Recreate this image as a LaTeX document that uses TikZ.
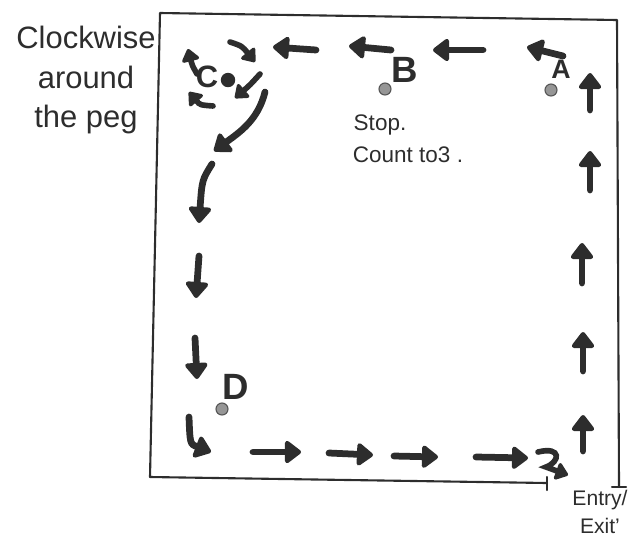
\documentclass[tikz,border=0pt]{standalone}
\usepackage{fontspec}
\setmainfont{Liberation Sans}
\usetikzlibrary{arrows.meta, positioning}
\definecolor{inkcolor}{RGB}{45,45,45}
\definecolor{pegcolor}{RGB}{150,150,150}

\begin{document}
\begin{tikzpicture}[x=0.025cm, y=-0.025cm,
    every node/.style={inner sep=0pt, text=inkcolor},
    box/.style={draw=inkcolor, line width=1.5pt, line cap=round, line join=round},
    move/.style={draw=inkcolor, line width=4.8pt, line cap=round,
                 -{Triangle[length=4.4mm, width=6.4mm, round]}},
    turn/.style={draw=inkcolor, line width=4pt, line cap=round,
                 -{Triangle[length=3.4mm, width=5mm, round]}},
    peg/.style={circle, draw=inkcolor!80, fill=pegcolor, minimum size=3mm, line width=0.8pt},
    bigpeg/.style={circle, fill=inkcolor, minimum size=3.6mm},
    peglabel/.style={font=\fontsize{26}{26}\selectfont\bfseries},
    note/.style={font=\fontsize{16}{19}\selectfont, align=center}
]
\useasboundingbox (0,0) rectangle (636,541);

% --- Rahmen mit Ein-/Ausgang ---
\coordinate (gapL) at (547,483);
\coordinate (botL) at (150,477);
\coordinate (topL) at (160,13);
\coordinate (topR) at (617,20);
\coordinate (gapR) at (619,487);
\draw[box] (gapL) -- (botL) -- (topL) -- (topR) -- (gapR);
\draw[box] (547,477) -- (547,490);
\draw[box] (612,487) -- (626,487);

% --- Pfosten ---
\node[bigpeg] (pegC) at (228,80) {};
\node[peglabel, font=\fontsize{22}{22}\selectfont\bfseries] (labC) at (207,77) {C};
\node[peg] (pegB) at (385,89) {};
\node[peglabel] (labB) at (405,70) {B};
\node[peg] (pegA) at (551,90) {};
\node[peglabel, font=\fontsize{19}{19}\selectfont\bfseries] (labA) at (561,69) {A};
\node[peg] (pegD) at (222,409) {};
\node[peglabel] (labD) at (236,387) {D};

% --- Texte ---
\node[note, font=\fontsize{22}{28}\selectfont] (hint) at (86,80)
    {Clockwise\\around\\the peg};
\node[note] (stop) at (380,125) {Stop.};
\node[note, anchor=north] (count) at (408,147) {Count to3 .};
\node[note, font=\fontsize{15}{20}\selectfont] (exit) at (600,512) {Entry/\\Exit'};

% --- Oben: nach links ---
\draw[move] (563,56) -- (527,47);
\draw[move] (483,50) -- (433,50);
\draw[move] (391,50) -- (349,46);
\draw[move] (316,50) -- (273,47);

% --- Um Pfosten C im Uhrzeigersinn ---
\draw[turn] (230,42) .. controls (242,46) .. (255,62);
\draw[turn] (260,74) .. controls (250,85) .. (235,98);
\draw[turn] (213,106) .. controls (200,105) .. (189,92);
\draw[turn] (197,74) .. controls (192,65) .. (188,49);

% --- Links: nach unten ---
\draw[move] (265,92) .. controls (258,120) and (240,132) .. (214,151);
\draw[move] (212,164) .. controls (202,180) .. (199,223);
\draw[move] (199,256) -- (196,298);
\draw[move] (195,338) -- (197,379);
\draw[move] (189,417) .. controls (190,444) .. (211,452);

% --- Unten: nach rechts ---
\draw[move] (253,452) -- (301,452);
\draw[move] (329,453) -- (373,455);
\draw[move] (394,456) -- (438,457);
\draw[move] (476,457) -- (528,458);
\draw[turn] (538,452) .. controls (562,446) and (560,462) .. (546,467) -- (568,475);

% --- Rechts: nach oben ---
\draw[move] (583,451) -- (583,415);
\draw[move] (583,371) -- (583,332);
\draw[move] (582,283) -- (582,243);
\draw[move] (590,190) -- (590,151);
\draw[move] (590,110) -- (590,73);
\end{tikzpicture}
\end{document}
